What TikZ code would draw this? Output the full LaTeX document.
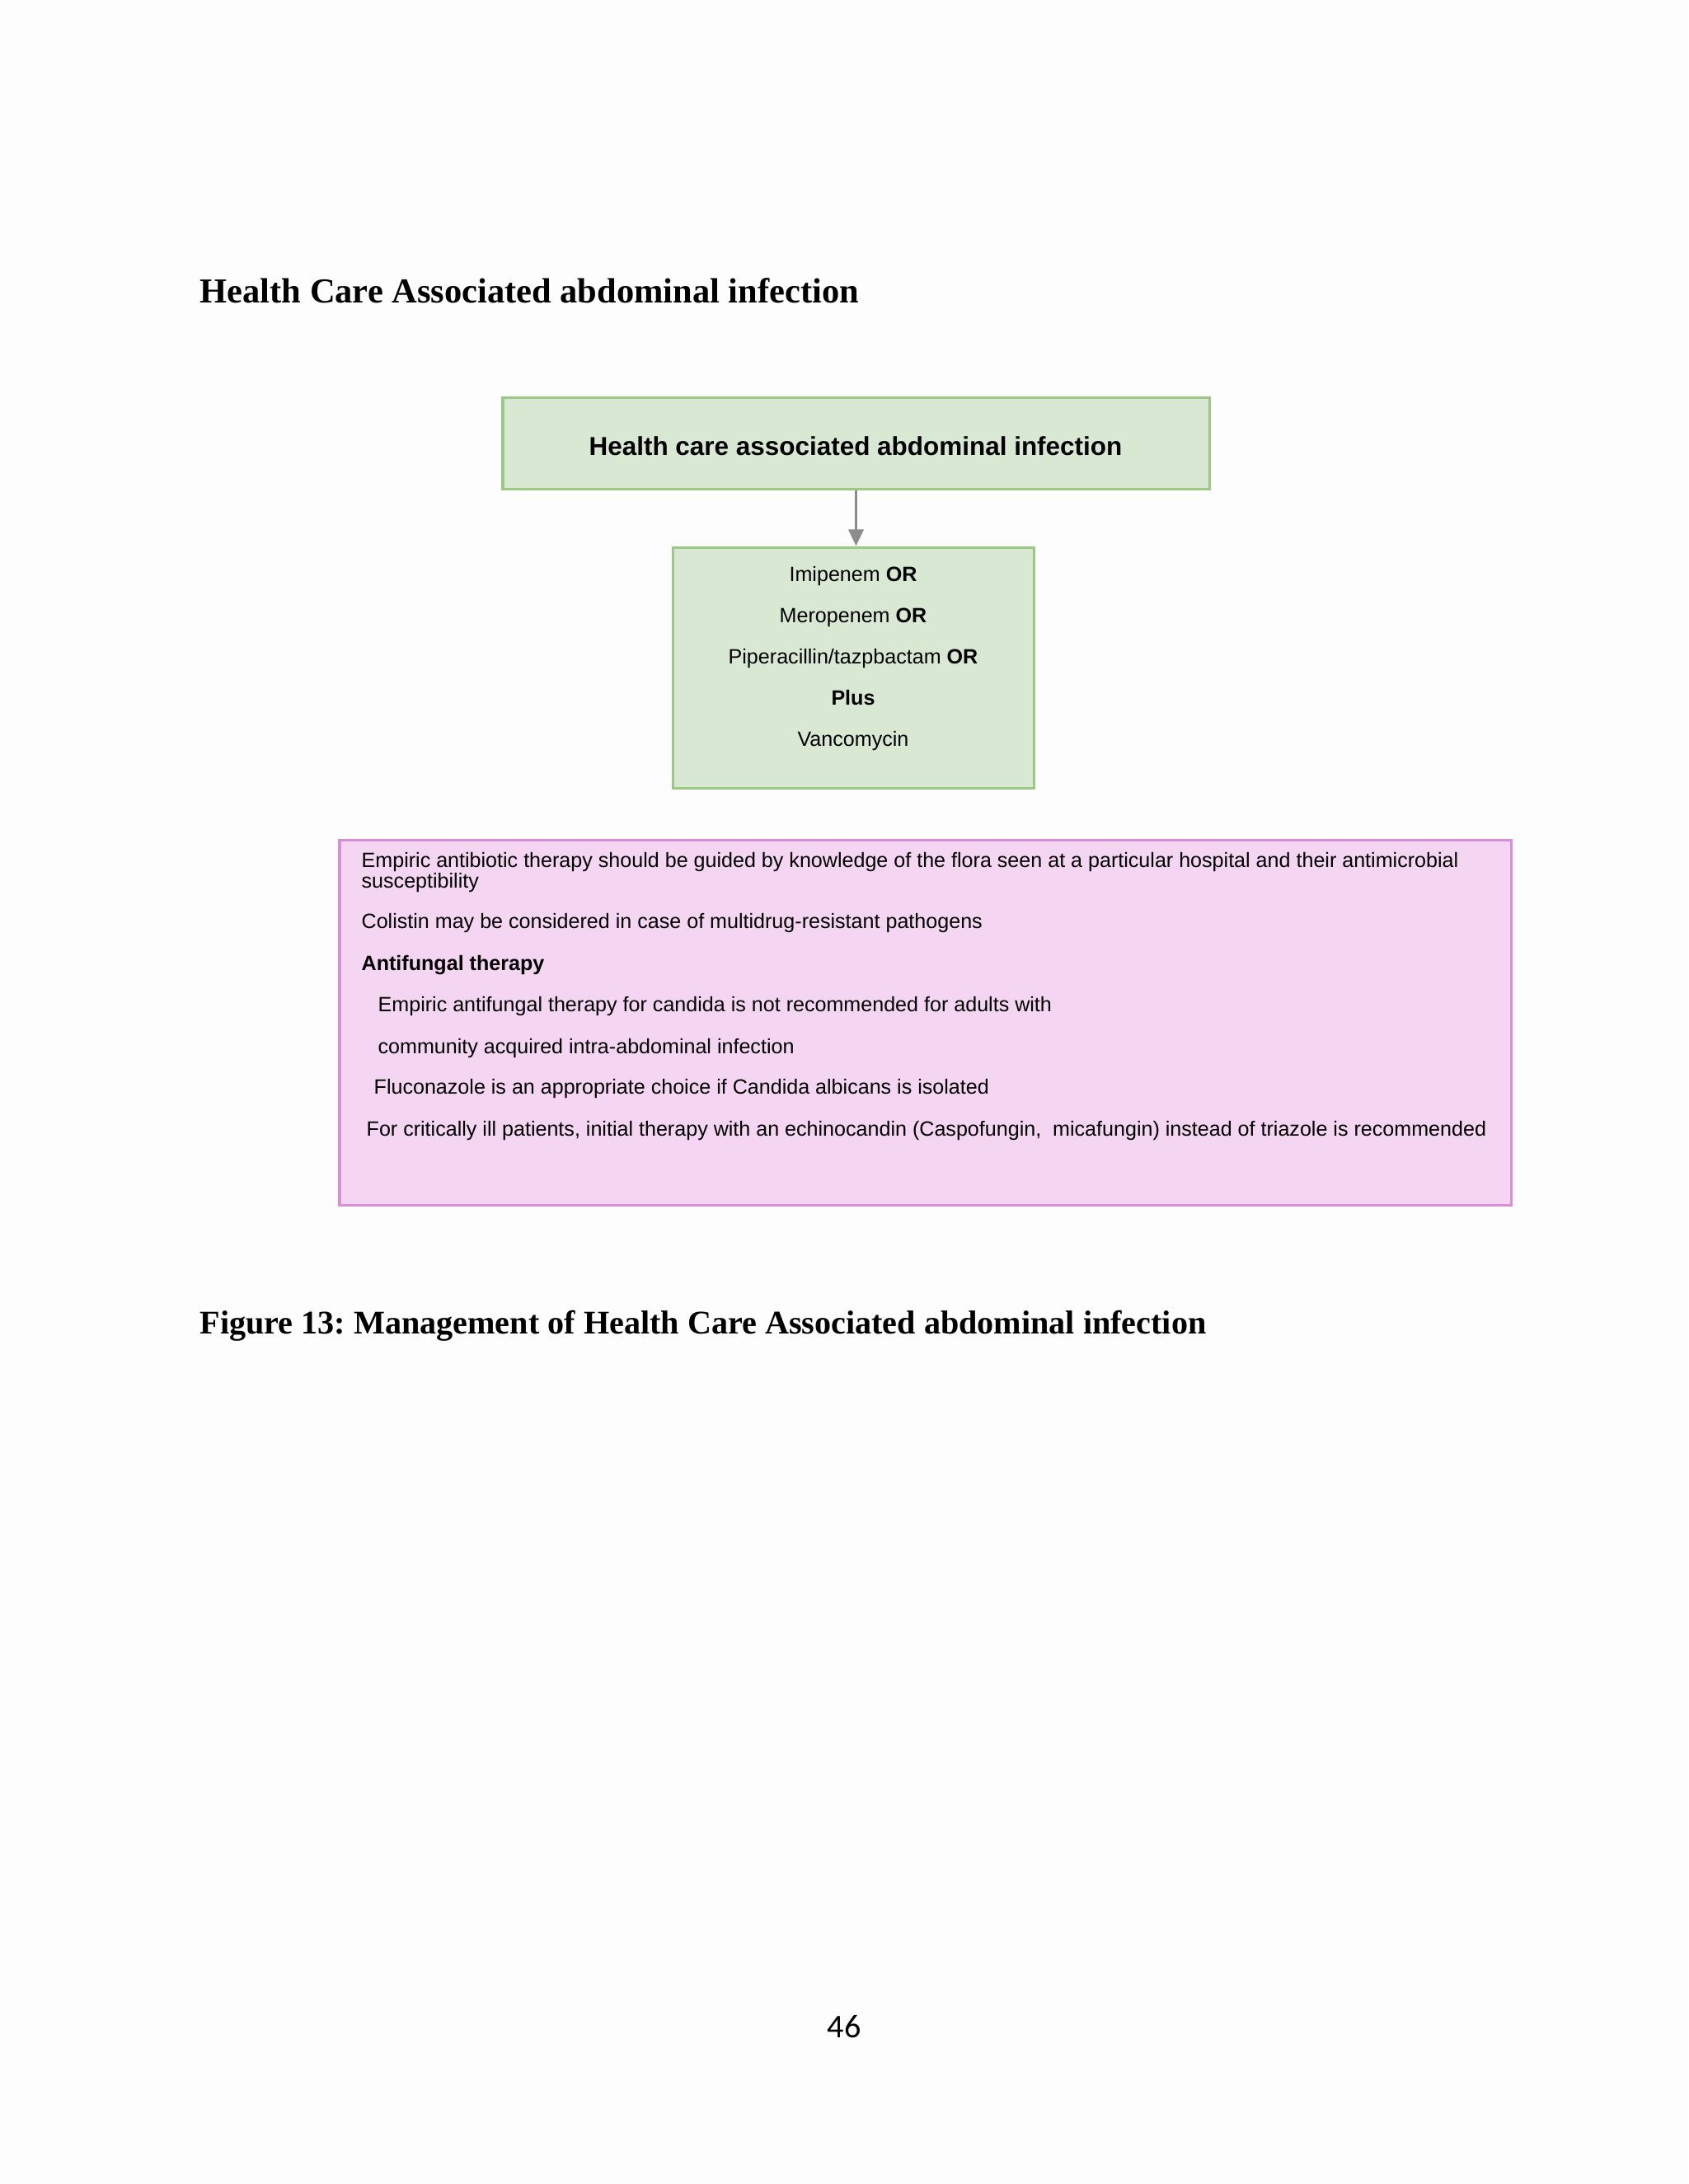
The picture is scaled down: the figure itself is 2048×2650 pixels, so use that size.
\documentclass[tikz,border=0pt]{standalone}
\usepackage{fontspec}
\setmainfont{Liberation Serif}
\newfontfamily\arialfont{Liberation Sans}
\newfontfamily\calibrifont{Carlito}
\usetikzlibrary{fit,arrows.meta}
\frenchspacing
\definecolor{pagebg}{HTML}{FDFDFD}
\definecolor{boxgreen}{HTML}{D9E8D3}
\definecolor{edgegreen}{HTML}{9BC985}
\definecolor{boxpink}{HTML}{F5D6F2}
\definecolor{edgepink}{HTML}{D98FD6}
\definecolor{arrowgray}{HTML}{8C8C8C}
\tikzset{
  greenbox/.style={draw=edgegreen,fill=boxgreen,line width=0.9pt,inner sep=0pt},
  pinkbox/.style={draw=edgepink,fill=boxpink,line width=0.9pt,inner sep=0pt},
  heading/.style={anchor=west,inner sep=0pt,font=\fontsize{12.7}{15}\selectfont\bfseries},
  figcaption/.style={anchor=west,inner sep=0pt,font=\fontsize{12}{14}\selectfont\bfseries},
  druglines/.style={align=center,inner sep=0pt,font=\arialfont\fontsize{7.5}{15}\selectfont},
  noteline/.style={anchor=west,inner sep=0pt,font=\arialfont\fontsize{7.5}{9}\selectfont},
  flowarrow/.style={draw=arrowgray,line width=1pt,-{Triangle[length=6pt,width=5.4pt]}}
}
\begin{document}
\begin{tikzpicture}[x=0.29887pt,y=-0.29887pt]
\fill[pagebg] (0,0) rectangle (2048,2650);
\useasboundingbox (0,0) rectangle (2048,2650);
\node[heading] (heading) at (242,353) {Health Care Associated abdominal infection};
\node[greenbox,fit={(610,482) (1467,593)}] (infect) {};
\node[inner sep=0pt,font=\arialfont\fontsize{9.4}{11}\selectfont\bfseries] (infecttext) at (1038,541) {Health care associated abdominal infection};
\node[greenbox,fit={(816,664) (1254,956)}] (drugs) {};
\node[druglines] (druglist) at (1035,799) {Imipenem \textbf{OR}\\Meropenem \textbf{OR}\\Piperacillin/tazpbactam \textbf{OR}\\\textbf{Plus}\\Vancomycin};
\draw[flowarrow] (infect.south) -- (infect.south |- drugs.north);
\node[pinkbox,fit={(412,1019) (1833,1462)}] (notes) {};
\node[noteline] (flora) at (438,1046) {Empiric antibiotic therapy should be guided by knowledge of the flora seen at a particular hospital and their antimicrobial};
\node[noteline] (suscept) at (438,1071) {susceptibility};
\node[noteline] (colistin) at (438,1120) {Colistin may be considered in case of multidrug-resistant pathogens};
\node[noteline] (antifungal) at (438,1171) {\textbf{Antifungal therapy}};
\node[noteline] (candida) at (458,1221) {Empiric antifungal therapy for candida is not recommended for adults with};
\node[noteline] (community) at (458,1272) {community acquired intra-abdominal infection};
\node[noteline] (flucon) at (453,1321) {Fluconazole is an appropriate choice if Candida albicans is isolated};
\node[noteline] (critical) at (444,1372) {For critically ill patients, initial therapy with an echinocandin (Caspofungin,\ \ micafungin) instead of triazole is recommended};
\node[figcaption] (figcap) at (242,1609) {Figure 13: Management of Health Care Associated abdominal infection};
\node[inner sep=0pt,font=\calibrifont\fontsize{12}{14}\selectfont] (pagenum) at (1024,2459) {46};
\end{tikzpicture}
\end{document}
